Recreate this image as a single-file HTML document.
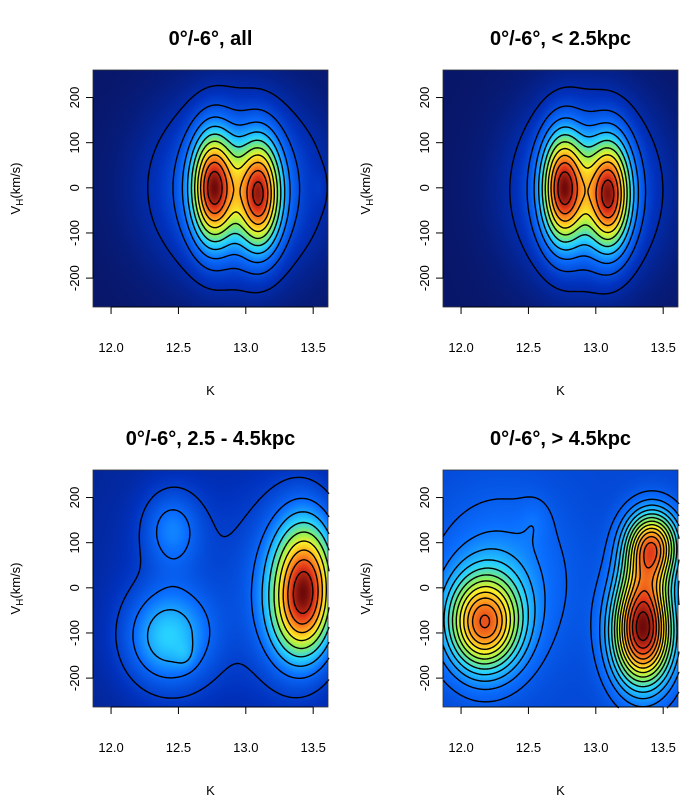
<!DOCTYPE html>
<html><head><meta charset="utf-8"><style>
body{margin:0;background:#fff;width:700px;height:800px;overflow:hidden;font-family:"Liberation Sans",sans-serif}
svg{position:absolute;left:0;top:0}
canvas{position:absolute}
</style></head><body>
<div id="root"></div>
<script>
// Gaussian mixture components per panel: center K, center V, sigma K, sigma V, weight
const p1K=[12.76,13.10,12.93,13.55];
const p1V=[0,-15,0,0];
const p1SK=[0.11,0.11,0.42,0.03];
const p1SV=[85,85,135,25];
const p1W=[1.0,0.95,0.45,0.04];
const p2K=[12.76,13.10,12.93];
const p2V=[0,-15,-5];
const p2SK=[0.11,0.11,0.36];
const p2SV=[85,85,135];
const p2W=[1.0,0.97,0.45];
const p3K=[13.45,13.42,13.35,12.42,12.55,12.45,12.7];
const p3V=[40,-60,0,-110,-150,130,0];
const p3SK=[0.16,0.16,0.25,0.22,0.05,0.15,0.5];
const p3SV=[90,80,150,75,20,60,200];
const p3W=[0.8,0.7,0.3,0.5,0.08,0.3,0.15];
const p4K=[13.42,13.35,13.35,12.17,12.3,12.55];
const p4V=[95,-110,-10,-80,20,150];
const p4SK=[0.14,0.16,0.14,0.19,0.35,0.08];
const p4SV=[55,80,70,75,130,35];
const p4W=[0.75,0.9,0.35,0.75,0.18,0.05];
const baseline=[0,0,0.1,0.22];
const titles=["0°/-6°, all","0°/-6°, < 2.5kpc","0°/-6°, 2.5 - 4.5kpc","0°/-6°, > 4.5kpc"];
const xTicks=[12.0,12.5,13.0,13.5];
const xTickLabels=["12.0","12.5","13.0","13.5"];
const yTicks=[200,100,0,-100,-200];
const yTickLabels=["200","100","0","-100","-200"];
const nLevels=[10,10,9,14];

const panels=[[p1K,p1V,p1SK,p1SV,p1W],[p2K,p2V,p2SK,p2SV,p2W],[p3K,p3V,p3SK,p3SV,p3W],[p4K,p4V,p4SK,p4SV,p4W]];
const offs=[[0,0],[350,0],[0,400],[350,400]];
const PW=235,PH=237,PX=93,PY=70;
const kMin=11.866,kMax=13.61,vMin=-264,vMax=261;
function sx(k){return (k-kMin)/(kMax-kMin)*PW;}
function sy(v){return (vMax-v)/(vMax-vMin)*PH;}
const stops=[[0,[8,22,104]],[0.12,[0,50,190]],[0.27,[10,110,255]],[0.42,[40,210,255]],[0.55,[140,240,90]],[0.65,[250,240,40]],[0.77,[255,150,30]],[0.89,[225,55,25]],[1,[110,10,10]]];
function col(t){t=Math.max(0,Math.min(1,t));for(let i=1;i<stops.length;i++){if(t<=stops[i][0]){const a=stops[i-1],b=stops[i];const f=(t-a[0])/(b[0]-a[0]);return a[1].map((c,j)=>Math.round(c+(b[1][j]-c)*f));}}return stops[stops.length-1][1];}
const NS="http://www.w3.org/2000/svg";
const root=document.getElementById('root');
const svg=document.createElementNS(NS,'svg');
svg.setAttribute('width',700);svg.setAttribute('height',800);
function mk(tag,attrs,parent){const e=document.createElementNS(NS,tag);for(const k in attrs)e.setAttribute(k,attrs[k]);(parent||svg).appendChild(e);return e;}
panels.forEach((p,pi)=>{
  const [K,V,SK,SV,W]=p;
  const ox=offs[pi][0],oy=offs[pi][1];
  function dens(px,py){const k=kMin+px/PW*(kMax-kMin),v=vMax-py/PH*(vMax-vMin);let s=baseline[pi];for(let i=0;i<K.length;i++){const dk=(k-K[i])/SK[i],dv=(v-V[i])/SV[i];s+=W[i]*Math.exp(-0.5*(dk*dk+dv*dv));}return s;}
  const cv=document.createElement('canvas');cv.width=PW;cv.height=PH;
  cv.style.left=(ox+PX)+'px';cv.style.top=(oy+PY)+'px';
  
  
  root.appendChild(cv);
  const ctx=cv.getContext('2d');const img=ctx.createImageData(PW,PH);
  let mx=0;const d=[];for(let y=0;y<PH;y++)for(let x=0;x<PW;x++){const v=dens(x+0.5,y+0.5);d.push(v);if(v>mx)mx=v;}
  for(let i=0;i<d.length;i++){const c=col(d[i]/mx);img.data[i*4]=c[0];img.data[i*4+1]=c[1];img.data[i*4+2]=c[2];img.data[i*4+3]=255;}
  ctx.putImageData(img,0,0);
  const g=mk('g',{transform:`translate(${ox},${oy})`});
  
  
  const st=2,nx=Math.ceil(PW/st)+1,ny=Math.ceil(PH/st)+1;const G=[];
  for(let j=0;j<ny;j++){G.push([]);for(let i=0;i<nx;i++)G[j].push(dens(i*st,j*st));}
  let path='';
  const nl=nLevels[pi];
  const lo=pi>=2?baseline[pi]*1.0:0;
  for(let l=1;l<=nl;l++){
    const lev=lo+(mx-lo)*l/(nl+1)*1.02;
    for(let j=0;j<ny-1;j++)for(let i=0;i<nx-1;i++){
      const a=G[j][i],b=G[j][i+1],c=G[j+1][i+1],e=G[j+1][i];
      const pts=[];
      function ed(v1,v2,x1,y1,x2,y2){if((v1>=lev)!==(v2>=lev)){const f=(lev-v1)/(v2-v1);pts.push([x1+(x2-x1)*f,y1+(y2-y1)*f]);}}
      const X=i*st,Y=j*st;
      ed(a,b,X,Y,X+st,Y);ed(b,c,X+st,Y,X+st,Y+st);ed(e,c,X,Y+st,X+st,Y+st);ed(a,e,X,Y,X,Y+st);
      for(let q=0;q+1<pts.length;q+=2)path+=`M${(PX+pts[q][0]).toFixed(1)},${(PY+pts[q][1]).toFixed(1)}L${(PX+pts[q+1][0]).toFixed(1)},${(PY+pts[q+1][1]).toFixed(1)}`;
    }
  }
  const cp=mk('path',{d:path,stroke:'#000','stroke-width':1.4,fill:'none'},g);
  
  
  const bx=mk('rect',{x:PX,y:PY,width:PW,height:PH,fill:'none',stroke:'#333','stroke-width':0.8},g);
  
  
  const t=mk('text',{x:PX+PW/2,y:45,'text-anchor':'middle','font-size':20,'font-weight':'bold'},g);t.textContent=titles[pi];
  
  
  const by=PY+PH;
  mk('line',{x1:PX+sx(xTicks[0]),x2:PX+sx(xTicks[xTicks.length-1]),y1:by,y2:by,stroke:'#000'},g);
  xTicks.forEach((k,i)=>{const x=PX+sx(k);mk('line',{x1:x,x2:x,y1:by,y2:by+7,stroke:'#000'},g);
    const tl=mk('text',{x:x,y:by+45,'text-anchor':'middle','font-size':13},g);tl.textContent=xTickLabels[i];
    
    });
  const xt=mk('text',{x:PX+PW/2,y:395,'text-anchor':'middle','font-size':13},g);xt.textContent='K';
  
  
  mk('line',{x1:PX,x2:PX,y1:PY+sy(yTicks[0]),y2:PY+sy(yTicks[yTicks.length-1]),stroke:'#000'},g);
  yTicks.forEach((v,i)=>{const y=PY+sy(v);mk('line',{x1:PX-7,x2:PX,y1:y,y2:y,stroke:'#000'},g);
    const tl=mk('text',{x:0,y:0,'text-anchor':'middle','font-size':13,transform:`translate(${PX-14},${y}) rotate(-90)`},g);tl.textContent=yTickLabels[i];
    
    });
  const yt=mk('text',{x:0,y:0,'text-anchor':'middle','font-size':13,transform:`translate(20,${PY+PH/2}) rotate(-90)`},g);
  yt.innerHTML='V<tspan font-size="10" dy="3">H</tspan><tspan dy="-3">(km/s)</tspan>';
  
  
});
root.appendChild(svg);
</script>
</body></html>
